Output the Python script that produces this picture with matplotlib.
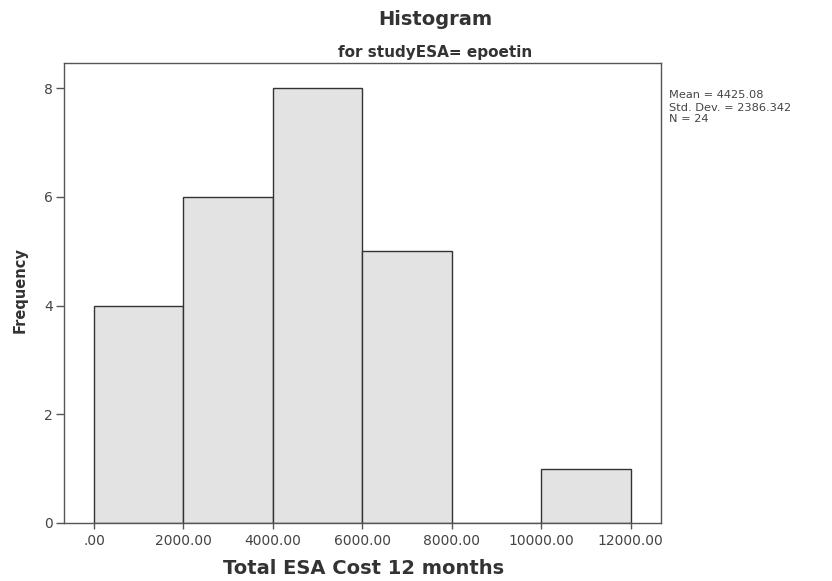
import matplotlib
matplotlib.use("Agg")
import matplotlib.pyplot as plt

plt.rcParams['font.family'] = ['DejaVu Sans']

# Histogram bins for Total ESA Cost 12 months (epoetin group)
bin_edges = [0, 2000, 4000, 6000, 8000, 10000, 12000]
frequencies = [4, 6, 8, 5, 0, 1]
x_ticks = [0, 2000, 4000, 6000, 8000, 10000, 12000]
x_tick_labels = [".00", "2000.00", "4000.00", "6000.00", "8000.00", "10000.00", "12000.00"]
y_ticks = [0, 2, 4, 6, 8]
stats_lines = ["Mean = 4425.08", "Std. Dev. = 2386.342", "N = 24"]

W, H = 832, 581
fig = plt.figure(figsize=(W / 100, H / 100), dpi=100)
ax = fig.add_axes([64 / W, 1 - 523 / H, (661 - 64) / W, (523 - 63) / H])

lefts = bin_edges[:-1]
widths = [b - a for a, b in zip(bin_edges[:-1], bin_edges[1:])]
ax.bar(lefts, frequencies, width=widths, align='edge',
       color='#e3e3e3', edgecolor='#333333', linewidth=1.0)

ax.set_xlim(-670, 12680)
ax.set_ylim(0, 8.46)
ax.set_xticks(x_ticks)
ax.set_xticklabels(x_tick_labels)
ax.set_yticks(y_ticks)
ax.tick_params(axis='both', direction='out', width=1.0,
               color='#555555', labelsize=10, labelcolor='#444444')
ax.tick_params(axis='x', length=4, pad=4)
ax.tick_params(axis='y', length=6, pad=2)
for s in ax.spines.values():
    s.set_color('#555555')
    s.set_linewidth(1.0)

# Titles and axis labels
fig.text(435 / W, 1 - 25 / H, "Histogram", ha='center', va='baseline',
         fontsize=14, fontweight='bold', color='#333333')
fig.text(435 / W, 1 - 56.5 / H, "for studyESA= epoetin", ha='center',
         va='baseline', fontsize=11, fontweight='bold', color='#333333')
fig.text(363.5 / W, 1 - 574 / H, "Total ESA Cost 12 months", ha='center',
         va='baseline', fontsize=14, fontweight='bold', color='#333333')
fig.text(20 / W, 1 - 290 / H, "Frequency", ha='center', va='center',
         rotation=90, fontsize=10.5, fontweight='bold', color='#333333')

# Summary statistics beside the plot
for line, base in zip(stats_lines, [98.5, 110.5, 122.5]):
    fig.text(669 / W, 1 - base / H, line, ha='left', va='baseline',
             fontsize=8.2, color='#444444')

fig.savefig("out.png", dpi=100)
